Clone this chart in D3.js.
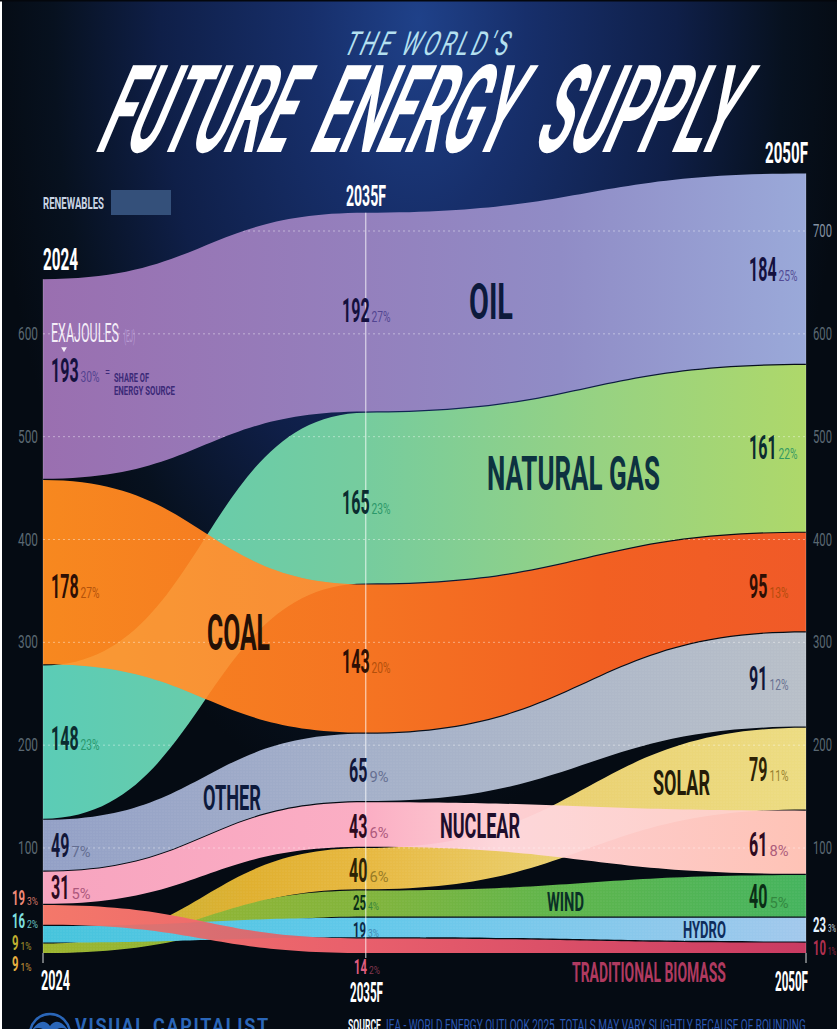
<!DOCTYPE html>
<html><head><meta charset="utf-8">
<style>html,body{margin:0;padding:0;background:#050b13;overflow:hidden}svg{display:block}
text{font-family:"Liberation Sans Narrow","Roboto","DejaVu Sans",sans-serif}</style>
<script src="https://cdn.jsdelivr.net/npm/d3@7/dist/d3.min.js"></script></head><body>
<script>
const years=[2024,2035,2050];
const gridTicksLeft=[100,200,300,400,500,600];
const gridTicksRight=[100,200,300,400,500,600,700];
const oil=[193,192,184], naturalGas=[148,165,161], coal=[178,143,95], other=[49,65,91],
      solar=[9,40,79], nuclear=[31,43,61], wind=[9,25,40], hydro=[16,19,23], biomass=[19,14,10];
const oilShare=[30,27,25], gasShare=[23,23,22], coalShare=[27,20,13], otherShare=[7,9,12],
      solarShare=[1,6,11], nuclearShare=[5,6,8], windShare=[1,4,5], hydroShare=[2,3,3], biomassShare=[3,2,1];
const order2024=[["Oil"],["Coal"],["Natural Gas"],["Other"],["Nuclear"],["Traditional Biomass"],["Hydro"],["Wind","Solar"]];
const order2035=[["Oil"],["Natural Gas"],["Coal"],["Other"],["Nuclear"],["Solar"],["Wind"],["Hydro"],["Traditional Biomass"]];
const order2050=[["Oil"],["Natural Gas"],["Coal"],["Other"],["Solar"],["Nuclear"],["Wind"],["Hydro"],["Traditional Biomass"]];
const orders=[order2024,order2035,order2050];
const values={"Oil":oil,"Natural Gas":naturalGas,"Coal":coal,"Other":other,"Solar":solar,"Nuclear":nuclear,"Wind":wind,"Hydro":hydro,"Traditional Biomass":biomass};
const shares={"Oil":oilShare,"Natural Gas":gasShare,"Coal":coalShare,"Other":otherShare,"Solar":solarShare,"Nuclear":nuclearShare,"Wind":windShare,"Hydro":hydroShare,"Traditional Biomass":biomassShare};
const drawOrder=["Oil","Natural Gas","Coal","Other","Solar","Wind","Nuclear","Hydro","Traditional Biomass"];

const W=837,H=1029;
const x=d3.scaleLinear().domain([2024,2050]).range([43,806]);
const yStack=d3.scaleLinear().domain([0,744]).range([953,183]);
const yAxis=d3.scaleLinear().domain([100,700]).range([848,231]);
const GAP=1.2;

const positions={};
drawOrder.forEach(n=>positions[n]=[]);
orders.forEach((ord,yi)=>{
  let cum=0;
  ord.slice().reverse().forEach((grp,gi)=>{
    const h=d3.max(grp,n=>values[n][yi]);
    grp.forEach(n=>{positions[n][yi]={year:years[yi],y0:yStack(cum)-gi*GAP,y1:yStack(cum+h)-gi*GAP};});
    cum+=h;
  });
});

const fills={
 "Oil":[[43,"#9a6fb0"],[366,"#9480bd"],[560,"#908cc6"],[806,"#9aa9d9"]],
 "Natural Gas":[[43,"#5bccb6"],[366,"#76cc9e"],[600,"#97d282"],[806,"#aed86a"]],
 "Coal":[[43,"#f7881f"],[366,"#f57422"],[600,"#f26022"],[806,"#f05a28"]],
 "Other":[[43,"#93a0c6"],[366,"#a4b0c9"],[806,"#b8bfc8"]],
 "Nuclear":[[43,"#f7a4bf"],[366,"#fbaec4"],[500,"#fdcfd3"],[806,"#fec3b6"]],
 "Solar":[[43,"#b5b53a"],[250,"#e0b030"],[366,"#e7b840"],[560,"#ead070"],[806,"#ecdc82"]],
 "Wind":[[43,"#9db52e"],[366,"#82b43c"],[560,"#5fb54c"],[806,"#45b45e"]],
 "Hydro":[[43,"#46c4dc"],[366,"#62c8ea"],[806,"#a2c8ec"]],
 "Traditional Biomass":[[43,"#f4786a"],[366,"#e85f6c"],[806,"#c93b62"]]
};
const patterned=["Other","Solar","Wind","Hydro"];
const overlays=[["Natural Gas","Coal","#ffc060",.32],["Solar","Nuclear","#ffffff",.18],["Hydro","Traditional Biomass","#808090",.18]];

const svg=d3.select("body").append("svg").attr("width",W).attr("height",H).attr("viewBox",`0 0 ${W} ${H}`);
const defs=svg.append("defs");
const bg=defs.append("radialGradient").attr("id","bg").attr("gradientUnits","userSpaceOnUse")
  .attr("cx",0).attr("cy",0).attr("r",1)
  .attr("gradientTransform",`translate(${W/2},20) scale(430,800)`);
[[0,"#1f4189"],[0.25,"#172f6b"],[0.6,"#0f1f48"],[0.85,"#07111f"],[1,"#050b13"]].forEach(s=>bg.append("stop").attr("offset",s[0]).attr("stop-color",s[1]));
const names=Object.keys(fills);
names.forEach((n,i)=>{
  const g=defs.append("linearGradient").attr("id","g"+i).attr("gradientUnits","userSpaceOnUse")
    .attr("x1",43).attr("x2",806).attr("y1",0).attr("y2",0);
  fills[n].forEach(s=>g.append("stop").attr("offset",(s[0]-43)/763).attr("stop-color",s[1]));
});
const pat=defs.append("pattern").attr("id","dots").attr("width",3).attr("height",3).attr("patternUnits","userSpaceOnUse");
pat.append("circle").attr("cx",1).attr("cy",1).attr("r",.6).attr("fill","#fff").attr("opacity",.14);

svg.append("rect").attr("width",W).attr("height",H).attr("fill","#050b13");
svg.append("rect").attr("width",W).attr("height",H).attr("fill","url(#bg)");
svg.append("rect").attr("x",0).attr("width",2).attr("height",H).attr("fill","#fff");
svg.append("rect").attr("x",0).attr("width",W).attr("height",1.5).attr("fill","#04070c");

const area=d3.area().x(d=>x(d.year)).y0(d=>d.y0).y1(d=>d.y1).curve(d3.curveBumpX);
const clip=defs.append("clipPath").attr("id","bands");
drawOrder.forEach(n=>{
  const idx=names.indexOf(n);
  const p=area(positions[n]);
  clip.append("path").attr("d",p);
  defs.append("clipPath").attr("id","clip"+idx).append("path").attr("d",p);
  svg.append("path").attr("d",p).attr("fill",`url(#g${idx})`);
  if(patterned.includes(n)) svg.append("path").attr("d",p).attr("fill","url(#dots)");
  overlays.filter(o=>o[1]==n).forEach(o=>{
    svg.append("path").attr("d",area(positions[o[0]])).attr("clip-path",`url(#clip${idx})`).attr("fill",o[2]).attr("fill-opacity",o[3]);
  });
});

const grid=svg.append("g").attr("clip-path","url(#bands)");
gridTicksRight.forEach(t=>grid.append("line").attr("x1",43).attr("x2",806).attr("y1",yAxis(t)).attr("y2",yAxis(t))
  .attr("stroke","#fff").attr("stroke-opacity",.42).attr("stroke-width",1).attr("stroke-dasharray","2 3"));

const topY=i=>d3.min(drawOrder,n=>positions[n][i].y1);
years.forEach((yr,i)=>{
  svg.append("line").attr("x1",x(yr)).attr("x2",x(yr)).attr("y1",topY(i)).attr("y2",yStack(0))
    .attr("stroke","#fff").attr("stroke-opacity",i==1?.8:.2);
  svg.append("line").attr("x1",x(yr)).attr("x2",x(yr)).attr("y1",yStack(0)).attr("y2",i==1?958:963)
    .attr("stroke","#fff").attr("stroke-opacity",.85);
});

function T(px,py,str,size,width,color,opts={}){
  const t=svg.append("text").text(str).attr("font-size",size).attr("fill",color)
    .attr("font-weight",opts.weight||"normal");
  if(opts.ls)t.attr("letter-spacing",opts.ls);
  const nat=t.node().getComputedTextLength();
  t.attr("transform",`translate(${px},${py}) ${opts.skew?`skewX(${opts.skew})`:""} scale(${width/nat},1)`);
  if(opts.opacity)t.attr("opacity",opts.opacity);
  return t;
}

gridTicksLeft.forEach(t=>T(18,yAxis(t)+6,String(t),19,20,"#5a6872"));
gridTicksRight.forEach(t=>T(813,yAxis(t)+6,String(t),19,19,t==700?"#8492a2":"#5a6872"));

T(342,55,"THE WORLD'S",33,166,"#b4e0f0",{skew:-23,ls:5});
[["FUTURE",93,189],["ENERGY",307,195],["SUPPLY",530,194]].forEach(w=>T(w[1],152,w[0],122,w[2],"#fff",{weight:"bold",skew:-23}));

T(43,270,"2024",31,35,"#fff",{weight:"bold"});
T(346,206,"2035F",30,40,"#fff",{weight:"bold"});
T(765,163,"2050F",30,43,"#fff",{weight:"bold"});
T(41,990,"2024",27,29,"#fff",{weight:"bold"});
T(350,1002,"2035F",28,33,"#fff",{weight:"bold"});
T(775,991,"2050F",28,33,"#fff",{weight:"bold"});

T(43,209,"RENEWABLES",16,61,"#c8d4e4",{weight:"bold"});
svg.append("rect").attr("x",111).attr("y",190).attr("width",60).attr("height",25).attr("fill","#34507a");
T(51,342,"EXAJOULES",26,68,"#f4eef8");
T(124,342,"(EJ)",16,11,"#c6aee0",{opacity:.7});
svg.append("path").attr("d",d3.symbol().type(d3.symbolTriangle).size(14)()).attr("fill","#f4eef8").attr("transform","translate(64,349) rotate(180)");
T(105,377,"=",12,5,"#3c2a78");
T(114,382,"SHARE OF",12,35,"#3c2a78",{weight:"bold"});
T(114,395,"ENERGY SOURCE",12,61,"#3c2a78",{weight:"bold"});

const valueColor={"Oil":"#14103e","Natural Gas":"#0b2c30","Coal":"#2e0f04","Other":"#111638","Solar":"#2e2204","Nuclear":"#2e0a20","Wind":"#0a2e16","Hydro":"#0c2848","Traditional Biomass":"#f07090"};
const shareColor={"Oil":"#473a8a","Natural Gas":"#1e8f62","Coal":"#a84a08","Other":"#5a6488","Solar":"#8a7020","Nuclear":"#a04a70","Wind":"#2f7f3a","Hydro":"#3d7fa8","Traditional Biomass":"#b84a68"};
const labelDy={"Oil":[-9,-2,0],"Coal":[14,2,4],"Natural Gas":[-4,4,-2],"Other":[0,2,-2],"Nuclear":[-1,1,1],"Solar":[0,1,0],"Wind":[0,-1,0],"Hydro":[0,2,0],"Traditional Biomass":[0,0,0]};
const labelX=[51,349,749];
const outerLeft={"Traditional Biomass":[897,"#f08a78"],"Hydro":[920,"#7fe0e0"],"Wind":[942,"#c0b030"],"Solar":[963,"#e8b040"]};
const outerRight={"Traditional Biomass":[947,"#b0304f"],"Hydro":[924,"#e4f2ff"]};
drawOrder.forEach(n=>{
  [0,1,2].forEach(i=>{
    const v=values[n][i], s=shares[n][i], p=positions[n][i];
    let cy=(p.y0+p.y1)/2+labelDy[n][i], lx=labelX[i], col=valueColor[n], sc=shareColor[n], sz=34, cw=9.2, ss=15, sw=19;
    if(i==1) lx=(String(v).length==3?342:349);
    const small=()=>{sz=21;cw=6.5;ss=11;sw=11;};
    if(i==0&&outerLeft[n]){small();lx=12;cy=outerLeft[n][0];col=sc=outerLeft[n][1];}
    if(i==2&&outerRight[n]){small();lx=813;sw=8;cy=outerRight[n][0];col=sc=outerRight[n][1];}
    if(i==1&&n=="Traditional Biomass"){small();lx=354;cy=966;col="#e05d80";sc="#9a3f5a";}
    if(i==1&&(n=="Hydro"||n=="Wind")){small();lx=353;}
    const w=String(v).length*cw;
    T(lx,cy+sz*0.36,String(v),sz,w,col,{weight:"bold"});
    T(lx+w+2,cy+sz*0.36,s+"%",ss,sw,sc,{opacity:.85});
  });
});

const NAVY="#0d1a3c";
[["OIL",469,44,50,319,NAVY],["NATURAL GAS",487,173,49,490,"#0d3240"],["COAL",207,63,50,650,"#241006"],
 ["OTHER",203,58,35,810,NAVY],["NUCLEAR",440,80,35,838,"#1e0e2c"],["SOLAR",653,57,35,795,"#241c08"],
 ["WIND",547,37,25,911,"#0a3026"],["HYDRO",683,43,24,938,"#0f2c5c"],["TRADITIONAL BIOMASS",572,154,27,982,"#b03a60"]]
 .forEach(b=>T(b[1],b[4],b[0],b[3],b[2],b[5],{weight:"bold"}));

const logo=svg.append("g").attr("transform","translate(50,1034)");
logo.append("circle").attr("r",20).attr("fill","none").attr("stroke","#2a66b8").attr("stroke-width",2.5);
logo.append("path").attr("d","M-18,-4 Q-8,-18 0,-8 Q8,-18 18,-4 Q8,-10 0,2 Q-8,-10 -18,-4Z").attr("fill","#2a66b8");
T(75,1033,"VISUAL CAPITALIST",21,195,"#2a66b8",{weight:"bold",ls:2});
T(348,1031,"SOURCE",16,33,"#f0f4fa",{weight:"bold"});
T(386,1031,"IEA - WORLD ENERGY OUTLOOK 2025. TOTALS MAY VARY SLIGHTLY BECAUSE OF ROUNDING",16,420,"#2a58b4");
</script></body></html>
